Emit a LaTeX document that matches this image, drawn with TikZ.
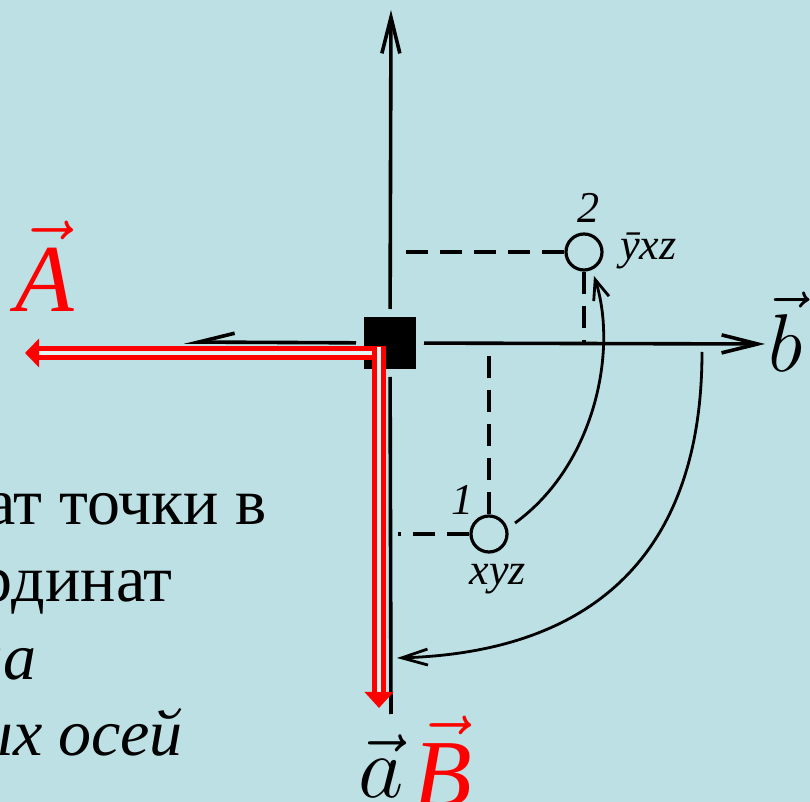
\documentclass[tikz,border=0pt]{standalone}
\usepackage{fix-cm}
\usepackage{amsmath}
\usepackage{fontspec}
\setmainfont{Liberation Serif}
\usepackage{tikz}
\usetikzlibrary{arrows.meta}
\definecolor{bg}{RGB}{188,224,228}
\definecolor{red}{RGB}{255,0,0}

\tikzset{
 axisline/.style={line width=1.8pt, black},
 dsh/.style={line width=1.6pt, dash pattern=on 11pt off 6pt},
 curvy/.style={line width=1.4pt},
 pt/.style={circle, draw, line width=1.6pt, minimum size=18pt, inner sep=0pt},
 vec/.style={line width=2.6pt, red, double=bg!40!white, double distance=1.6pt},
 lbl/.style={font=\fontsize{22}{24}\selectfont\itshape, inner sep=0pt},
 txt/.style={font=\fontsize{33}{38}\selectfont, anchor=base east, inner sep=0pt},
}

\begin{document}
\begin{tikzpicture}[x=0.5pt, y=-0.5pt]
 			\clip (0,0) rectangle (810,802);
 			\fill[bg] (0,0) rectangle (810,802);
 			
 			\path 
 			(391,10) coordinate (1)
 			(765,344) coordinate (2)
 			(184,342) coordinate (3)
 			(391,714) coordinate (4)
 			(515,523) coordinate (5)
 			(594,276) coordinate (6)
 			(702,352) coordinate (7)
 			(397,658) coordinate (8)
 			(386,353) coordinate (9)
 			(25,353) coordinate (10)
 			(379,347) coordinate (11)
 			(379,708) coordinate (12)
 			;
 			
 			\node[fill=black, minimum size=26pt, inner sep=0pt, outer sep=4pt] (o) at (390,343) {};
 			\node[pt] (p1) at (489,534) {};
 			\node[pt] (p2) at (584,252) {};
 			
 			\draw[axisline,-{Straight Barb[length=18pt,width=9pt]}] (o) to (1);
 			\draw[axisline,-{Straight Barb[length=18pt,width=9pt]}] (o) to (2);
 			\draw[axisline,-{Straight Barb[harpoon,swap,length=18pt,width=9pt]}] (o) to (3);
 			\draw[axisline] (o) to (4);
 			
 			\draw[dsh] (p2) to ([xshift=4pt]o |- p2);
 			\draw[dsh] (p2) to (p2 |- o);
 			\draw[dsh] (p1) to ([xshift=4pt]o |- p1);
 			\draw[dsh] (p1) to (p1 |- o);
 			
 			\draw[curvy,-{Straight Barb[length=10pt,width=8pt]}] (5) .. controls (595,465) and (618,350) .. (6);
 			\draw[curvy,-{Straight Barb[length=13pt,width=8pt]}] (7) .. controls (702,551) and (596,652) .. (8);
 			
 			\draw[vec,-{Triangle[length=7pt,width=14pt]}] (9) to (10);
 			\draw[vec,-{Triangle[length=8pt,width=14pt]}] (11) to (12);
 			
 			\node[lbl, anchor=base] (n2) at (588,223) {2};
 			\node[lbl, anchor=base west] (l2) at (620,260) {ȳxz};
 			\node[lbl, anchor=base] (n1) at (462,515) {1};
 			\node[lbl, anchor=base] (l1) at (498,585) {xyz};
 			
 			\node[red, anchor=base, inner sep=0pt, font=\fontsize{48}{50}\selectfont] (A) at (45,312) {$\vec{\text{\itshape A}}$};
 			\node[red, anchor=base, inner sep=0pt, font=\fontsize{48}{50}\selectfont] (B) at (443,806) {$\vec{\text{\itshape B}}$};
 			\node[anchor=base, inner sep=0pt, font=\fontsize{41}{44}\selectfont] (b) at (786,372) {$\vec{b}$};
 			\node[anchor=base, inner sep=0pt, font=\fontsize{44}{46}\selectfont] (a) at (381,798) {$\vec{a}$};
 			
 			\node[txt] (t1) at (267,525) {ат точки в};
 			\node[txt] (t2) at (173,602) {рдинат};
 			\node[txt] (t3) at (37,680) {\itshape на};
 			\node[txt] (t4) at (183,755) {\itshape ых осей};
 			
 		\end{tikzpicture}
\end{document}
